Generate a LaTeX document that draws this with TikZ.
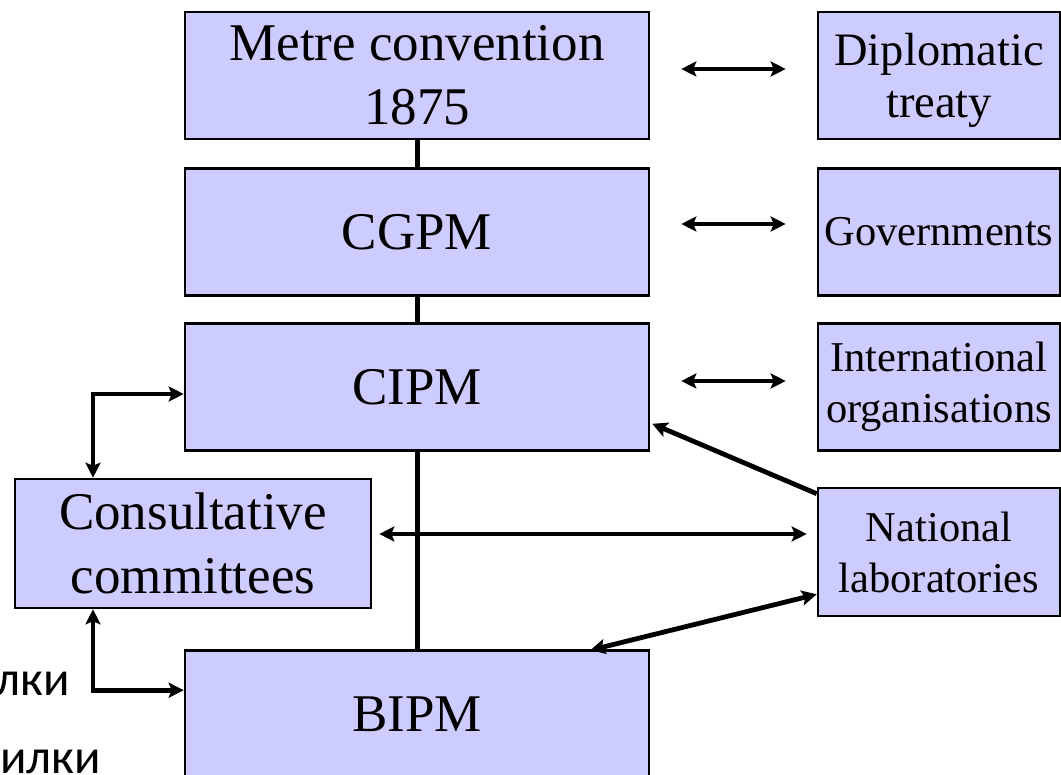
\documentclass[tikz,border=0pt]{standalone}
\usepackage{fontspec}
\setmainfont{Liberation Serif}
\newfontfamily\cyrfont{Carlito}
\usetikzlibrary{arrows.meta}
\definecolor{boxfill}{RGB}{204,204,255}
\tikzset{
  orgbox/.style={draw=black, line width=2.6pt, fill=boxfill, rectangle, align=center, inner sep=0pt},
  bigbox/.style={orgbox, minimum width=464pt, minimum height=127pt, font=\fontsize{53}{64}\selectfont},
  sidebox/.style={orgbox, minimum width=242pt, minimum height=127pt, font=\fontsize{42.5}{51}\selectfont},
  tip/.tip={Stealth[length=15pt, width=15pt, inset=3pt]},
  link/.style={line width=5pt},
  dbl/.style={line width=4.8pt, {tip}-{tip}},
  sgl/.style={line width=4.8pt, -{tip}},
  cyr/.style={font=\cyrfont\fontsize{49}{58}\selectfont, inner sep=0pt, anchor=base east}
}
\begin{document}
\begin{tikzpicture}[x=1pt,y=-1pt]
\useasboundingbox (0,0) rectangle (1061,775);
\clip (0,0) rectangle (1061,775);
% main column
\node[bigbox] (metre) at (417,75.5) {Metre convention\\1875};
\node[bigbox] (cgpm) at (417,232) {CGPM};
\node[bigbox] (cipm) at (417,387) {CIPM};
\node[bigbox] (bipm) at (417,714) {BIPM};
\node[bigbox, minimum width=356pt, minimum height=129pt] (consult) at (193,543.5) {Consultative\\committees};
% side column
\node[sidebox] (dipl) at (939,75.5) {};
\node[align=center, inner sep=0pt, font=\fontsize{46.5}{52}\selectfont] (dipltxt) at ([yshift=-4.5pt]dipl.center) {Diplomatic\\treaty};
\node[sidebox] (gov) at (939,232) {Governments};
\node[sidebox] (intl) at (939,387) {International\\organisations};
\node[sidebox, minimum height=128pt] (natl) at (939,552) {National\\laboratories};
% text fragments
\node[cyr] (t1) at (70,695) {пилки};
\node[cyr] (t2) at (101,773) {пилки};
% helper coordinates
\coordinate (lx) at (93,0);
\coordinate (hy) at (0,534);
% vertical links
\draw[link] (metre.south) -- (cgpm.north);
\draw[link] (cgpm.south) -- (cipm.north);
\draw[link] (cipm.south) -- (bipm.north);
% horizontal double arrows
\draw[dbl, shorten <=31pt, shorten >=31pt] ([yshift=6.5pt]metre.east) -- ([yshift=6.5pt]dipl.west);
\draw[dbl, shorten <=31pt, shorten >=31pt] ([yshift=8pt]cgpm.east) -- ([yshift=8pt]gov.west);
\draw[dbl, shorten <=31pt, shorten >=31pt] ([yshift=6pt]cipm.east) -- ([yshift=6pt]intl.west);
\draw[dbl, shorten <=7pt, shorten >=10pt] (consult.east |- hy) -- (natl.west |- hy);
% national laboratories links
\draw[sgl] ([yshift=-7pt]natl.north west) -- ([xshift=2pt,yshift=28pt]cipm.south east);
\draw[dbl] ([yshift=23pt]natl.south west) -- ([xshift=-60pt,yshift=-1pt]bipm.north east);
% elbow arrows
\draw[dbl] ([yshift=-7pt]cipm.west) -| (consult.north -| lx);
\draw[dbl] (consult.south -| lx) |- ([yshift=-41pt]bipm.north west);
\end{tikzpicture}
\end{document}
